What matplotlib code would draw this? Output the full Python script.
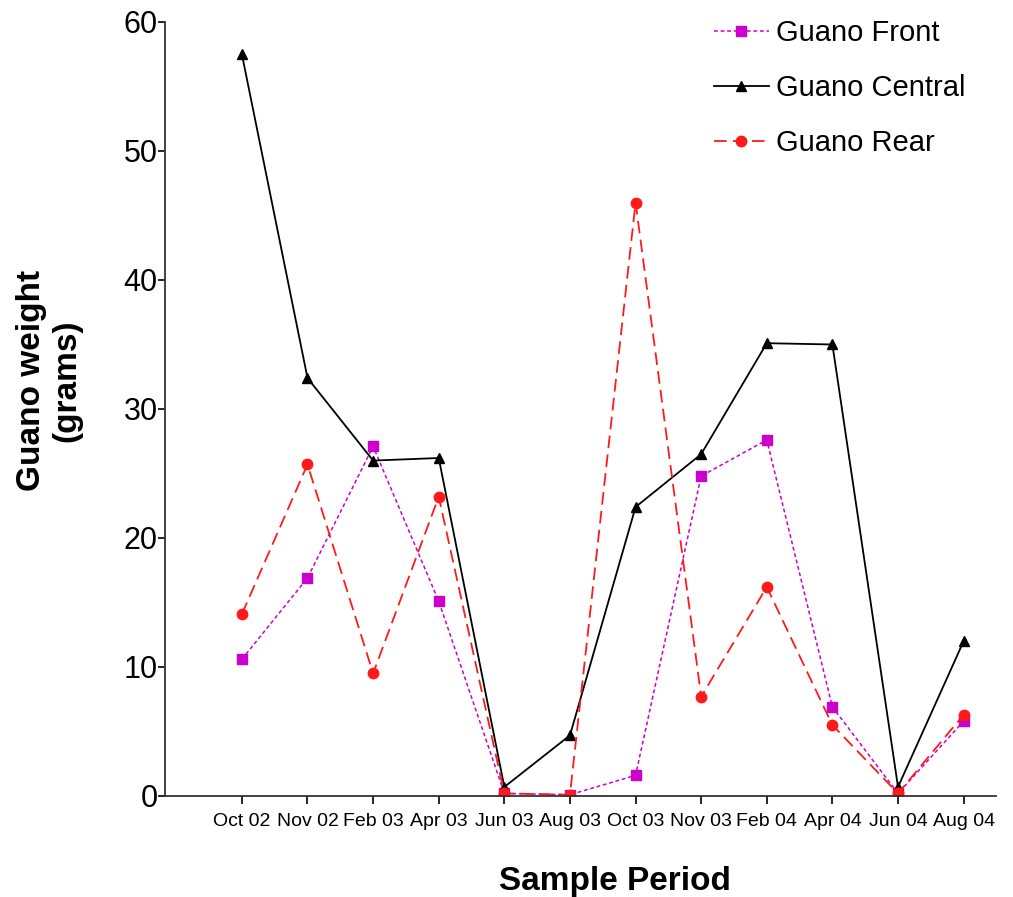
import matplotlib
matplotlib.use("Agg")
import matplotlib.pyplot as plt

# --- data ---
periods = ["Oct 02", "Nov 02", "Feb 03", "Apr 03", "Jun 03", "Aug 03",
           "Oct 03", "Nov 03", "Feb 04", "Apr 04", "Jun 04", "Aug 04"]
guano_front = [10.6, 16.9, 27.1, 15.1, 0.2, 0.1, 1.6, 24.8, 27.6, 6.9, 0.2, 5.8]
guano_central = [57.5, 32.4, 26.0, 26.2, 0.7, 4.7, 22.4, 26.5, 35.1, 35.0, 0.7, 12.0]
guano_rear = [14.1, 25.7, 9.5, 23.2, 0.2, 0.1, 46.0, 7.7, 16.2, 5.5, 0.2, 6.3]

plt.rcParams['font.family'] = ['Liberation Sans', 'DejaVu Sans']

fig = plt.figure(figsize=(10.13, 8.97), dpi=100)
ax = fig.add_axes([0.163, 0.1126, 0.820, 0.8629])

x = list(range(len(periods)))
ax.plot(x, guano_front, color='#cc00cc', lw=1.1, dashes=(2.5, 1.8),
        marker='s', ms=7.5, label='Guano Front')
ax.plot(x, guano_central, color='black', lw=1.3, linestyle='-',
        marker='^', ms=7.5, label='Guano Central')
ax.plot(x, guano_rear, color='#ff1a1a', lw=1.3, dashes=(7, 3.5),
        marker='o', ms=7.5, label='Guano Rear')

ax.set_xlim(-1.17, 11.49)
ax.set_ylim(0, 60)
ax.set_xticks(x)
ax.set_xticklabels(periods, fontsize=14)
ax.set_yticks(range(0, 61, 10))
ax.tick_params(axis='y', labelsize=22, length=5, width=1.2, pad=0.5)
ax.tick_params(axis='x', length=6, width=1.2, pad=6)

for s in ['top', 'right']:
    ax.spines[s].set_visible(False)
for s in ['left', 'bottom']:
    ax.spines[s].set_linewidth(1.3)
    ax.spines[s].set_color('#333333')

ax.set_ylabel("Guano weight\n(grams)", fontsize=24, fontweight='bold', linespacing=1.15)
ax.yaxis.set_label_coords(-0.100, 0.537)
ax.set_xlabel("Sample Period", fontsize=24, fontweight='bold')
ax.xaxis.set_label_coords(0.5415, -0.091)

ax.legend(loc='upper left', bbox_to_anchor=(0.690, 0.995), bbox_transform=fig.transFigure,
          frameon=False, fontsize=21, borderpad=0, handlelength=1.9,
          handletextpad=0.25, labelspacing=0.92)

fig.savefig("out.png", dpi=100)
